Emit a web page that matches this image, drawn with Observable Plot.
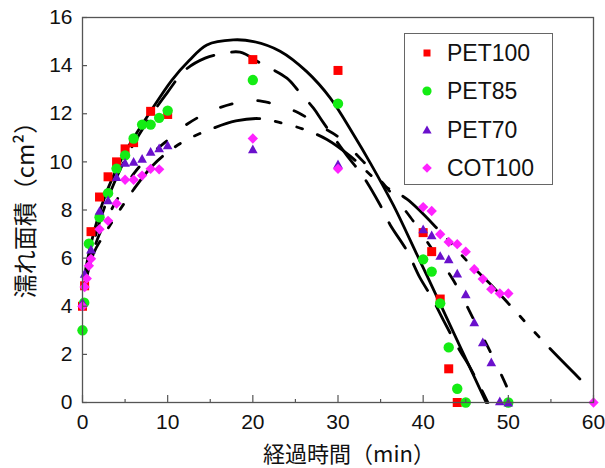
<!DOCTYPE html>
<html><head><meta charset="utf-8">
<script src="https://cdn.jsdelivr.net/npm/d3@7"></script>
<script src="https://cdn.jsdelivr.net/npm/@observablehq/plot@0.6"></script>
<style>
body{margin:0;background:#fff;}
#wrap{position:relative;width:605px;height:468px;overflow:hidden;background:#fff;}
#legend{position:absolute;left:404px;top:33px;width:147px;height:150px;border:1.5px solid #666;background:#fff;font-family:"Liberation Sans",Arial,sans-serif;font-size:23px;color:#111;}
.lrow{position:absolute;left:0;height:30px;line-height:30px;}
.lrow svg{position:absolute;left:12px;top:5px;}
.lrow span{position:absolute;left:42px;top:0;white-space:nowrap;}
</style></head><body><div id="wrap"></div>
<script>
// ---- data ----
const seriesNames = ["PET100", "PET85", "PET70", "COT100"];
const seriesColors = ["#ff0000", "#14ec14", "#6a10cc", "#ff22ff"];

const pet100T = [0, 0.25, 1, 2, 3, 4, 5, 6, 8, 10, 20, 30, 40, 41, 42, 43, 44];
const pet100Y = [4.0, 4.85, 7.1, 8.54, 9.38, 10.0, 10.54, 10.8, 12.1, 11.97, 14.25, 13.8, 7.06, 6.27, 4.3, 1.4, 0];

const pet85T = [0, 0.2, 0.75, 2, 3, 4, 5, 6, 7, 8, 9, 10, 20, 30, 40, 41, 42, 43, 44, 45, 50];
const pet85Y = [3.0, 4.15, 6.6, 7.7, 8.7, 9.72, 10.27, 10.97, 11.55, 11.55, 11.83, 12.13, 13.4, 12.42, 5.95, 5.44, 4.12, 2.29, 0.57, 0, 0];

const pet70T = [0, 0.25, 1, 2, 3, 4, 5, 6, 7, 8, 9, 10, 20, 30, 40, 41, 42, 43, 44, 45, 46, 47, 48, 49, 50];
const pet70Y = [4.15, 5.35, 6.35, 7.96, 8.4, 9.37, 9.96, 10.0, 10.13, 10.42, 10.56, 10.69, 10.52, 9.9, 7.2, 6.95, 6.09, 5.95, 5.36, 4.5, 3.33, 2.5, 1.67, 0.05, 0];

const cot100T = [0, 0.25, 0.5, 0.75, 1, 2, 3, 4, 5, 6, 7, 8, 9, 20, 30, 40, 41, 42, 43, 44, 45, 46, 47, 48, 49, 50, 60];
const cot100Y = [4.0, 4.8, 5.15, 5.68, 5.97, 7.2, 7.55, 8.27, 9.26, 9.26, 9.43, 9.71, 9.69, 10.97, 9.71, 8.12, 7.96, 6.99, 6.67, 6.58, 6.27, 5.54, 5.13, 4.71, 4.53, 4.53, 0];

// fitted curves
const fit100T = [0.3, 1, 2, 3, 5, 8, 10.5, 12.5, 14.6, 17.7, 20.1, 23.2, 26.3, 29.1, 31.8, 33.8, 36.5, 39.2, 42, 44.5, 47.4];
const fit100Y = [5.4, 6.6, 7.9, 8.9, 10.4, 12.1, 13.4, 14.2, 14.86, 15.07, 15.0, 14.6, 13.76, 12.65, 11.15, 9.95, 8.2, 6.2, 4.1, 2.2, 0];

const fit85T = [0.3, 1, 2, 3, 5, 8, 10, 12, 14.4, 16.5, 18.5, 20.9, 24, 25.4, 27.1, 28.3, 31.4, 32.8, 34.9, 36.1, 38.1, 39.6, 41, 42.4, 44.3, 45.5, 47.1, 47.6];
const fit85Y = [5.0, 6.2, 7.5, 8.5, 10.1, 11.9, 12.9, 13.8, 14.31, 14.5, 14.56, 14.1, 13.48, 12.93, 12.24, 11.62, 10.1, 9.48, 8.24, 7.4, 6.3, 5.2, 4.37, 3.4, 2.16, 1.46, 0.36, 0];

const fit70T = [0.3, 1, 2, 4, 6, 8, 10, 12, 15, 18, 20.2, 22, 24, 25.4, 28.3, 29.9, 33, 35.3, 38.5, 41, 43.6, 45.9, 48.1, 50.1, 50.4];
const fit70Y = [5.1, 6.0, 7.0, 8.4, 9.5, 10.3, 10.9, 11.5, 12.1, 12.45, 12.55, 12.45, 12.24, 12.03, 11.41, 11.07, 10.0, 9.1, 7.7, 6.4, 5.05, 3.47, 1.95, 0.4, 0];

const fitCotT = [0.3, 1.3, 2.7, 4.2, 6, 8.1, 10, 12.3, 15, 18, 20.7, 23, 26.1, 28.7, 31.4, 35, 38.1, 42, 45.5, 47.9, 50.3, 52.5, 55, 58.4];
const fitCotY = [4.9, 6.2, 7.06, 7.9, 8.85, 9.8, 10.4, 10.93, 11.35, 11.7, 11.8, 11.65, 11.34, 10.93, 10.25, 9.1, 8.45, 7.1, 5.75, 4.92, 4.0, 3.15, 2.2, 0.98];

const xTicks = [0, 10, 20, 30, 40, 50, 60];
const xMinorTicks = [5, 15, 25, 35, 45, 55];
const yTicks = [0, 2, 4, 6, 8, 10, 12, 14, 16];
const xTitle = "経過時間（min）";
const yTitle = "濡れ面積（cm²）";

// ---- build ----
const zip = (T, Y) => T.map((t, i) => ({t, v: Y[i]}));
const W = 605, H = 468, mL = 82, mR = 12, mT = 17, mB = 66;
const innerW = W - mL - mR, innerH = H - mT - mB;

const symSquare = {draw(c, s) { const h = Math.sqrt(s / Math.PI); c.rect(-h, -h, 2 * h, 2 * h); }};
const symCircle = {draw(c, s) { const r = Math.sqrt(s / Math.PI); c.moveTo(r, 0); c.arc(0, 0, r, 0, 2 * Math.PI); }};
const symTri = {draw(c, s) { const h = Math.sqrt(s / Math.PI); c.moveTo(0, -1.05 * h); c.lineTo(1.05 * h, 0.85 * h); c.lineTo(-1.05 * h, 0.85 * h); c.closePath(); }};
const symDiamond = {draw(c, s) { const h = Math.sqrt(s / Math.PI); c.moveTo(0, -h); c.lineTo(h, 0); c.lineTo(0, h); c.lineTo(-h, 0); c.closePath(); }};

const pointSets = [
  {rows: zip(pet100T, pet100Y), sym: symSquare, r: 4.5},
  {rows: zip(pet85T, pet85Y), sym: symCircle, r: 5.2},
  {rows: zip(pet70T, pet70Y), sym: symTri, r: 4.6},
  {rows: zip(cot100T, cot100Y), sym: symDiamond, r: 5.2}
];
const fits = [
  {rows: zip(fit100T, fit100Y), dash: null},
  {rows: zip(fit85T, fit85Y), dash: "30,18"},
  {rows: zip(fit70T, fit70Y), dash: "12,26"},
  {rows: zip(fitCotT, fitCotY), dash: "46,16,6,16,6,16"}
];

const font = '"Liberation Sans", Arial, sans-serif';
const cjk = '"Noto Sans CJK JP", sans-serif';

const plot = Plot.plot({
  width: W, height: H,
  marginLeft: mL, marginRight: mR, marginTop: mT, marginBottom: mB,
  style: {fontFamily: font, background: "#fff", color: "#111"},
  x: {domain: [0, 60], label: null},
  y: {domain: [0, 16], label: null},
  marks: [
    ...fits.map(f => Plot.line(f.rows, {x: "t", y: "v", stroke: "#000", strokeWidth: 2.8, strokeDasharray: f.dash, curve: "catmull-rom"})),
    ...pointSets.map((p, i) => Plot.dot(p.rows, {x: "t", y: "v", symbol: p.sym, r: p.r, fill: seriesColors[i], stroke: "none"})),
    Plot.frame({stroke: "#555", strokeWidth: 1.3}),
    Plot.ruleX(xTicks, {x: d => d, insetTop: innerH - 7, stroke: "#555", strokeWidth: 1.2}),
    Plot.ruleX(xMinorTicks, {x: d => d, insetTop: innerH - 3, stroke: "#555", strokeWidth: 1.2}),
    Plot.ruleY(yTicks, {y: d => d, insetRight: innerW - 5, stroke: "#555", strokeWidth: 1.2}),
    Plot.axisX(xTicks, {tickSize: 0, tickPadding: 12, fontSize: 21, label: null}),
    Plot.axisY(yTicks, {tickSize: 0, tickPadding: 10, fontSize: 21, label: null}),
    Plot.text([xTitle], {frameAnchor: "bottom", dx: 11, dy: 52, text: d => d, fontSize: 22, fontFamily: cjk, textAnchor: "middle", lineAnchor: "middle", fill: "#111"}),
    Plot.text([yTitle], {frameAnchor: "left", dx: -56, dy: -6, rotate: -90, text: d => d, fontSize: 24, fontFamily: cjk, textAnchor: "middle", lineAnchor: "middle", fill: "#111"})
  ]
});

const wrap = document.getElementById("wrap");
wrap.appendChild(plot);

// legend
const legend = document.createElement("div");
legend.id = "legend";
const legSym = [
  '<rect x="6.5" y="6.5" width="7" height="7"/>',
  '<circle cx="10" cy="10" r="4.6"/>',
  '<path d="M10,5.5 L14.6,13.6 L5.4,13.6 Z"/>',
  '<path d="M10,5.2 L14.8,10 L10,14.8 L5.2,10 Z"/>'
];
seriesNames.forEach((name, i) => {
  const row = document.createElement("div");
  row.className = "lrow";
  row.style.top = (4 + i * 38.3) + "px";
  row.innerHTML = `<svg width="20" height="20" style="fill:${seriesColors[i]}">${legSym[i]}</svg><span>${name}</span>`;
  legend.appendChild(row);
});
wrap.appendChild(legend);
</script></body></html>
